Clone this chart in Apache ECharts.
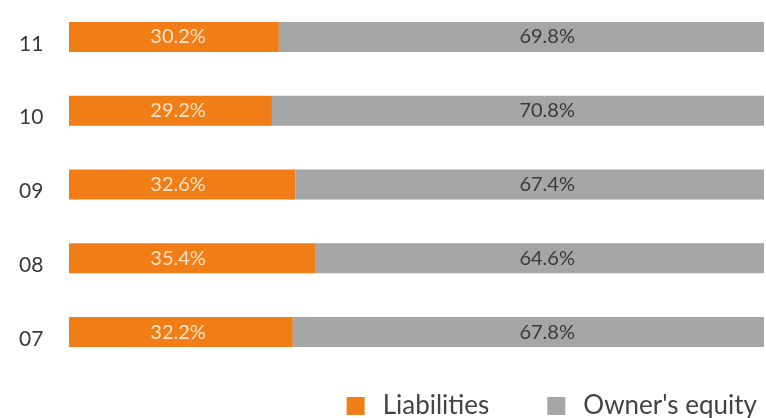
<!DOCTYPE html>
<html>
<head>
<meta charset="utf-8">
<script src="https://cdn.jsdelivr.net/npm/echarts@6/dist/echarts.min.js"></script>
<style>
  html, body { margin: 0; padding: 0; background: #fff; }
  #chart { width: 766px; height: 418px; }
</style>
</head>
<body>
<div id="chart"></div>
<script>
// Capital structure by year (share of total, %)
const years = ['07', '08', '09', '10', '11'];
const liabilities = [32.2, 35.4, 32.6, 29.2, 30.2];
const ownersEquity = [67.8, 64.6, 67.4, 70.8, 69.8];

// Value-axis positions where each series' labels line up in a column
const liabilitiesLabelAt = 15.7;
const equityLabelAt = 68.8;

const chart = echarts.init(document.getElementById('chart'));
const fontFamily = 'Lato, "DejaVu Sans", sans-serif';
const fmt = p => p.value.toFixed(1) + '%';

const baseOption = {
  animation: false,
  grid: { left: 69, right: 2, top: 0, bottom: 49, containLabel: false },
  legend: {
    right: 4,
    bottom: -6,
    itemWidth: 18,
    itemHeight: 18,
    itemGap: 58,
    icon: 'rect',
    textStyle: { fontSize: 26, color: '#444', fontFamily: fontFamily, padding: [0, 0, 0, 13] },
    data: ['Liabilities', "Owner's equity"]
  },
  xAxis: { type: 'value', min: 0, max: 100, show: false },
  yAxis: {
    type: 'category',
    data: years,
    axisLine: { show: false },
    axisTick: { show: false },
    axisLabel: {
      fontSize: 21, color: '#3a3a3a', fontFamily: fontFamily,
      margin: 50, align: 'left', verticalAlign: 'top', lineHeight: 14
    }
  },
  series: [
    {
      name: 'Liabilities',
      type: 'bar',
      stack: 'total',
      data: liabilities,
      barWidth: 30,
      itemStyle: { color: '#f07d16' },
      label: { show: true, position: 'inside', formatter: fmt, color: '#fde3c8', fontSize: 20, fontFamily: fontFamily }
    },
    {
      name: "Owner's equity",
      type: 'bar',
      stack: 'total',
      data: ownersEquity,
      barWidth: 30,
      itemStyle: { color: '#a6a6a6' },
      label: { show: true, position: 'inside', formatter: fmt, color: '#3a3a3a', fontSize: 20, fontFamily: fontFamily }
    }
  ]
};

chart.setOption(baseOption);

// Shift each label from its bar centre to the shared column position
const px = v => chart.convertToPixel({ xAxisIndex: 0 }, v);
const liabItems = liabilities.map(v => ({
  value: v,
  label: { offset: [px(liabilitiesLabelAt) - px(v / 2), 0] }
}));
const equityItems = ownersEquity.map((v, i) => ({
  value: v,
  label: { offset: [px(equityLabelAt) - px(liabilities[i] + v / 2), 0] }
}));
chart.setOption({ series: [{ data: liabItems }, { data: equityItems }] });
</script>
</body>
</html>
